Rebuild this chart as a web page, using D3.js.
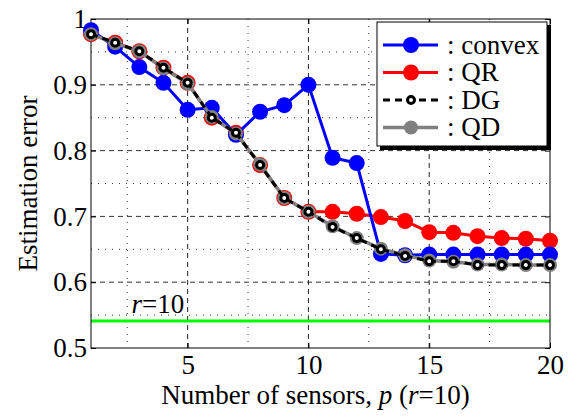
<!DOCTYPE html>
<html>
<head>
<meta charset="utf-8">
<script src="https://cdn.jsdelivr.net/npm/d3@7"></script>
<style>
  html, body { margin: 0; padding: 0; background: #fff; overflow: hidden; }
  svg { display: block; }
  svg text { font-family: "Liberation Serif", "Times New Roman", serif; fill: #000; }
</style>
</head>
<body>
<div id="chart"></div>
<script>
// Values
const sensors = [1, 2, 3, 4, 5, 6, 7, 8, 9, 10, 11, 12, 13, 14, 15, 16, 17, 18, 19, 20];
const convex = [0.983, 0.958, 0.927, 0.903, 0.862, 0.865, 0.824, 0.859, 0.869, 0.900,
                0.789, 0.781, 0.643, 0.641, 0.642, 0.642, 0.642, 0.642, 0.642, 0.642];
const qr = [0.977, 0.964, 0.951, 0.926, 0.903, 0.850, 0.827, 0.778, 0.728, 0.707,
            0.707, 0.704, 0.699, 0.693, 0.676, 0.675, 0.670, 0.667, 0.666, 0.663];
const dg = [0.977, 0.964, 0.951, 0.926, 0.903, 0.850, 0.827, 0.778, 0.728, 0.707,
            0.684, 0.667, 0.650, 0.640, 0.632, 0.632, 0.626, 0.626, 0.626, 0.626];
const qd = [0.977, 0.963, 0.951, 0.925, 0.902, 0.851, 0.826, 0.779, 0.728, 0.707,
            0.685, 0.667, 0.651, 0.641, 0.633, 0.631, 0.627, 0.627, 0.626, 0.626];
const refLevel = 0.541;   // green r=10 line

const xTicks = [5, 10, 15, 20];
const yTicks = [0.5, 0.6, 0.7, 0.8, 0.9, 1];
const xMajorGrid = [5, 10, 15];
const xMinorGrid = [2.5, 7.5, 12.5, 17.5];
const yMajorGrid = [0.6, 0.7, 0.8, 0.9];
const yMinorGrid = [0.55, 0.65, 0.75, 0.85, 0.95];

const width = 576, height = 420;
const margin = { top: 19, right: 26, bottom: 72, left: 91 };
const innerWidth = width - margin.left - margin.right;
const innerHeight = height - margin.top - margin.bottom;

const svg = d3.select("#chart")
    .append("svg")
    .attr("width", width)
    .attr("height", height);

const inner = svg.append("g")
    .attr("transform", `translate(${margin.left},${margin.top})`);

const xScale = d3.scaleLinear().domain([1, 20]).range([0, innerWidth]);
const yScale = d3.scaleLinear().domain([0.5, 1]).range([innerHeight, 0]);

// Grid lines (major dashed, minor dotted)
const grid = inner.append("g");
grid.selectAll(".xmaj").data(xMajorGrid).join("line")
    .attr("x1", d => xScale(d)).attr("x2", d => xScale(d))
    .attr("y1", 0).attr("y2", innerHeight)
    .attr("stroke", "#222").attr("stroke-dasharray", "5,4");
grid.selectAll(".xmin").data(xMinorGrid).join("line")
    .attr("x1", d => xScale(d)).attr("x2", d => xScale(d))
    .attr("y1", 0).attr("y2", innerHeight)
    .attr("stroke", "#333").attr("stroke-dasharray", "1,6");
grid.selectAll(".ymaj").data(yMajorGrid).join("line")
    .attr("y1", d => yScale(d)).attr("y2", d => yScale(d))
    .attr("x1", 0).attr("x2", innerWidth)
    .attr("stroke", "#333").attr("stroke-dasharray", "5,4");
grid.selectAll(".ymin").data(yMinorGrid).join("line")
    .attr("y1", d => yScale(d)).attr("y2", d => yScale(d))
    .attr("x1", 0).attr("x2", innerWidth)
    .attr("stroke", "#333").attr("stroke-dasharray", "1,6");

// Green reference line
inner.append("line")
    .attr("x1", xScale(1)).attr("x2", xScale(20))
    .attr("y1", yScale(refLevel)).attr("y2", yScale(refLevel))
    .attr("stroke", "#00ff00").attr("stroke-width", 3);

const refLabel = inner.append("text")
    .attr("x", xScale(2.68)).attr("y", yScale(refLevel) - 8)
    .style("font-size", "27px");
refLabel.append("tspan").style("font-style", "italic").text("r");
refLabel.append("tspan").text("=10");

// Axes with inward ticks
const xAxis = inner.append("g")
    .attr("transform", `translate(0,${innerHeight})`)
    .call(d3.axisBottom(xScale).tickValues(xTicks).tickSize(-5).tickPadding(7).tickFormat(d3.format("d")));
const yAxis = inner.append("g")
    .call(d3.axisLeft(yScale).tickValues(yTicks).tickSize(-5).tickPadding(4).tickFormat(d => d === 1 ? "1" : d3.format(".1f")(d)));
const topAxis = inner.append("g")
    .call(d3.axisTop(xScale).tickValues(xTicks).tickSize(-5));
const rightAxis = inner.append("g")
    .attr("transform", `translate(${innerWidth},0)`)
    .call(d3.axisRight(yScale).tickValues(yTicks).tickSize(-5));
topAxis.selectAll("text").remove();
rightAxis.selectAll("text").remove();
inner.selectAll(".domain").remove();
inner.selectAll(".tick line").attr("stroke", "#000");
[xAxis, yAxis].forEach(a => a.selectAll("text")
    .style("font-size", "27px")
    .style("font-family", "'Liberation Serif', 'Times New Roman', serif"));

inner.append("rect")
    .attr("width", innerWidth).attr("height", innerHeight)
    .attr("fill", "none").attr("stroke", "#000").attr("stroke-width", 1);

// Series
const line = d3.line().x((d, i) => xScale(sensors[i])).y(d => yScale(d));

const series = [
    { name: "QR", values: qr, color: "#ff0000", width: 3, dash: null, r: 8, fill: "#ff0000", stroke: "none", sw: 0 },
    { name: "convex", values: convex, color: "#0000ff", width: 3, dash: null, r: 8, fill: "#0000ff", stroke: "none", sw: 0 },
    { name: "QD", values: qd, color: "#808080", width: 3.5, dash: null, r: 7, fill: "#808080", stroke: "none", sw: 0 },
    { name: "DG", values: dg, color: "#000000", width: 3, dash: "7,5", r: 3.5, fill: "#ffffff", stroke: "#000", sw: 3 }
];

series.forEach(s => {
    const g = inner.append("g");
    g.append("path")
        .datum(s.values)
        .attr("d", line)
        .attr("fill", "none")
        .attr("stroke", s.color)
        .attr("stroke-width", s.width)
        .attr("stroke-dasharray", s.dash);
    g.selectAll("circle")
        .data(s.values)
        .join("circle")
        .attr("cx", (d, i) => xScale(sensors[i]))
        .attr("cy", d => yScale(d))
        .attr("r", s.r)
        .attr("fill", s.fill)
        .attr("stroke", s.stroke)
        .attr("stroke-width", s.sw);
});

// Axis labels
svg.append("text")
    .attr("x", margin.left + innerWidth / 2 - 5)
    .attr("y", 404)
    .attr("text-anchor", "middle")
    .style("font-size", "27px")
    .call(t => {
        t.append("tspan").text("Number of sensors, ");
        t.append("tspan").style("font-style", "italic").text("p");
        t.append("tspan").text(" (");
        t.append("tspan").style("font-style", "italic").text("r");
        t.append("tspan").text("=10)");
    });

svg.append("text")
    .attr("transform", `translate(37,${margin.top + innerHeight / 2}) rotate(-90)`)
    .attr("text-anchor", "middle")
    .style("font-size", "27px")
    .text("Estimation error");

// Legend with shadow
const legendEntries = [
    { label: ": convex", s: series[1] },
    { label: ": QR", s: series[0] },
    { label: ": DG", s: series[3] },
    { label: ": QD", s: series[2] }
];
const legend = svg.append("g").attr("transform", "translate(377,22)");
legend.append("rect")
    .attr("x", 3).attr("y", 3).attr("width", 171).attr("height", 125)
    .attr("fill", "#000");
legend.append("rect")
    .attr("width", 170).attr("height", 124)
    .attr("fill", "#fff").attr("stroke", "#000").attr("stroke-width", 1);

legendEntries.forEach((e, i) => {
    const row = legend.append("g").attr("transform", `translate(0,${23 + i * 27.5})`);
    row.append("line")
        .attr("x1", 6).attr("x2", 61)
        .attr("stroke", e.s.color).attr("stroke-width", e.s.width)
        .attr("stroke-dasharray", e.s.dash);
    row.append("circle")
        .attr("cx", 34).attr("cy", 0).attr("r", e.s.r)
        .attr("fill", e.s.fill).attr("stroke", e.s.stroke).attr("stroke-width", e.s.sw);
    row.append("text")
        .attr("x", 70).attr("y", 0).attr("dy", "0.33em")
        .style("font-size", "27px")
        .text(e.label);
});
</script>
</body>
</html>
